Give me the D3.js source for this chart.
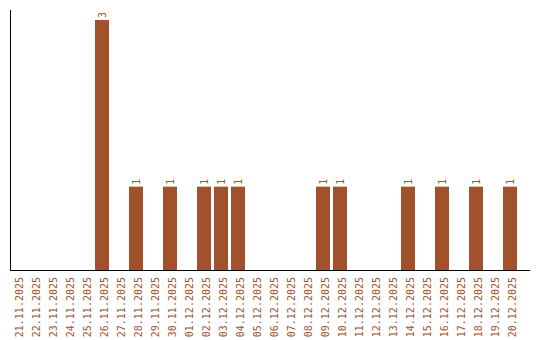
<!DOCTYPE html>
<html>
<head>
<meta charset="utf-8">
<script src="https://cdn.jsdelivr.net/npm/d3@7"></script>
<style>
  body { margin: 0; background: #fff; }
  svg text { font-family: "DejaVu Sans Mono", "Liberation Mono", monospace; font-size: 10px; fill: #a0522d; }
</style>
</head>
<body>
<svg id="chart" width="540" height="340"></svg>
<script>
// categories (days)
const dates = [
    "21.11.2025", "22.11.2025", "23.11.2025", "24.11.2025", "25.11.2025",
    "26.11.2025", "27.11.2025", "28.11.2025", "29.11.2025", "30.11.2025",
    "01.12.2025", "02.12.2025", "03.12.2025", "04.12.2025", "05.12.2025",
    "06.12.2025", "07.12.2025", "08.12.2025", "09.12.2025", "10.12.2025",
    "11.12.2025", "12.12.2025", "13.12.2025", "14.12.2025", "15.12.2025",
    "16.12.2025", "17.12.2025", "18.12.2025", "19.12.2025", "20.12.2025"
]
// count per day
const counts = [
    0, 0, 0, 0, 0,
    3, 0, 1, 0, 1,
    0, 1, 1, 1, 0,
    0, 0, 0, 1, 1,
    0, 0, 0, 1, 0,
    1, 0, 1, 0, 1
]

const color = "#a0522d"
const width = 540
const height = 340
const margin = { top: 20, right: 10, bottom: 70, left: 10 }

const svg = d3.select("#chart")

const data = dates.map((d, i) => ({ date: d, value: counts[i] }))

const x = d3.scaleBand()
    .domain(dates)
    .range([8.5, 518.5])
    .paddingInner(3 / 17)
    .paddingOuter(1.5 / 17)

const y = d3.scaleLinear()
    .domain([0, d3.max(counts)])
    .range([height - margin.bottom, margin.top])

// bars
svg.append("g")
    .attr("fill", color)
    .selectAll("rect")
    .data(data.filter(d => d.value > 0))
    .join("rect")
    .attr("x", d => x(d.date))
    .attr("y", d => y(d.value))
    .attr("width", x.bandwidth())
    .attr("height", d => y(0) - y(d.value))

// value labels
svg.append("g")
    .selectAll("text")
    .data(data.filter(d => d.value > 0))
    .join("text")
    .attr("transform", d => `translate(${x(d.date) + x.bandwidth() / 2},${y(d.value) - 2}) rotate(-90)`)
    .attr("dy", 4)
    .text(d => d.value)

// x labels
svg.append("g")
    .selectAll("text")
    .data(dates)
    .join("text")
    .attr("transform", d => `translate(${x(d) + x.bandwidth() / 2},${y(0) + 7}) rotate(-90)`)
    .attr("text-anchor", "end")
    .attr("dy", 5.5)
    .text(d => d)

// axes lines
svg.append("line")
    .attr("x1", 10.5).attr("x2", 10.5)
    .attr("y1", 10).attr("y2", y(0) + 1)
    .attr("stroke", "#000")

svg.append("line")
    .attr("x1", 10).attr("x2", 530)
    .attr("y1", y(0) + 0.5).attr("y2", y(0) + 0.5)
    .attr("stroke", "#000")
</script>
</body>
</html>
